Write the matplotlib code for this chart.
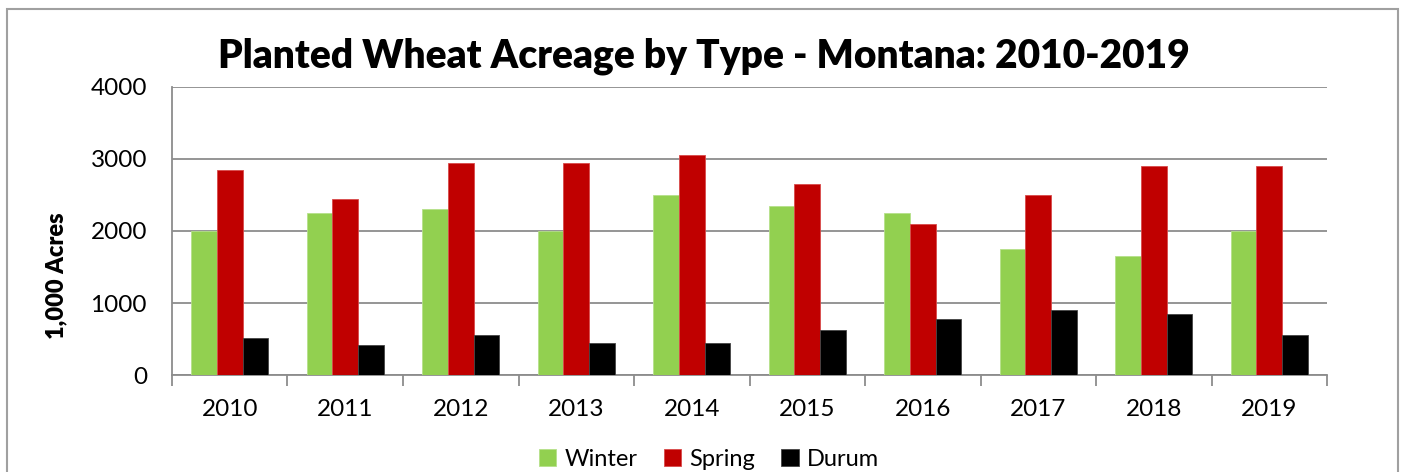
import numpy as np
import matplotlib.pyplot as plt
from matplotlib.patches import Rectangle

years = ['2010', '2011', '2012', '2013', '2014', '2015', '2016', '2017', '2018', '2019']
winter = [2000, 2250, 2300, 2000, 2500, 2350, 2250, 1750, 1650, 2000]
spring = [2850, 2450, 2950, 2950, 3050, 2650, 2100, 2500, 2900, 2900]
durum = [520, 410, 560, 450, 440, 620, 780, 900, 845, 560]

plt.rcParams['font.family'] = ['Lato', 'DejaVu Sans']

fig = plt.figure(figsize=(14.04, 4.72), dpi=100)
ax = fig.add_axes([0.1225, 0.2055, 0.8227, 0.6102])

# outer chart border
fig.patches.append(Rectangle((0.005, -0.05), 0.991, 1.03, transform=fig.transFigure,
                             fill=False, edgecolor='#a0a0a0', linewidth=1.5))

x = np.arange(len(years))
w = 0.222
ax.bar(x - w, winter, w, color='#92D050', edgecolor='#b5e08a', linewidth=0.6, label='Winter', zorder=3)
ax.bar(x, spring, w, color='#C00000', edgecolor='#d84a4a', linewidth=0.6, label='Spring', zorder=3)
ax.bar(x + w, durum, w, color='#000000', edgecolor='#444444', linewidth=0.6, label='Durum', zorder=3)

ax.set_xlim(-0.5, len(years) - 0.5)
ax.set_ylim(0, 4000)
ax.set_yticks([0, 1000, 2000, 3000, 4000])
ax.yaxis.grid(True, color='#8c8c8c', linewidth=1.3, zorder=0)
ax.set_axisbelow(True)

# category ticks between groups
ax.set_xticks(x)
ax.set_xticklabels(years, fontsize=17.5)
ax.tick_params(axis='x', length=0, pad=17)
ax.set_xticks(np.arange(-0.5, len(years)), minor=True)
ax.tick_params(axis='x', which='minor', length=8, color='#8c8c8c', width=1.3, direction='out')
ax.tick_params(axis='y', length=0, labelsize=17.5, pad=18)

for s in ['top', 'right']:
    ax.spines[s].set_visible(False)
for s in ['left', 'bottom']:
    ax.spines[s].set_color('#8c8c8c')
    ax.spines[s].set_linewidth(1.3)

fig.text(0.0399, 0.415, '1,000 Acres', rotation=90, ha='center', va='center',
         fontsize=17, fontweight='heavy')
fig.text(0.5015, 0.88, 'Planted Wheat Acreage by Type - Montana: 2010-2019',
         ha='center', va='center', fontsize=28, fontweight='heavy')

fig.legend(loc='center', bbox_to_anchor=(0.505, 0.027), ncol=3, frameon=False,
           fontsize=17, handlelength=0.75, handleheight=0.75, handletextpad=0.35,
           columnspacing=1.1)

fig.savefig('out.png', dpi=100)
